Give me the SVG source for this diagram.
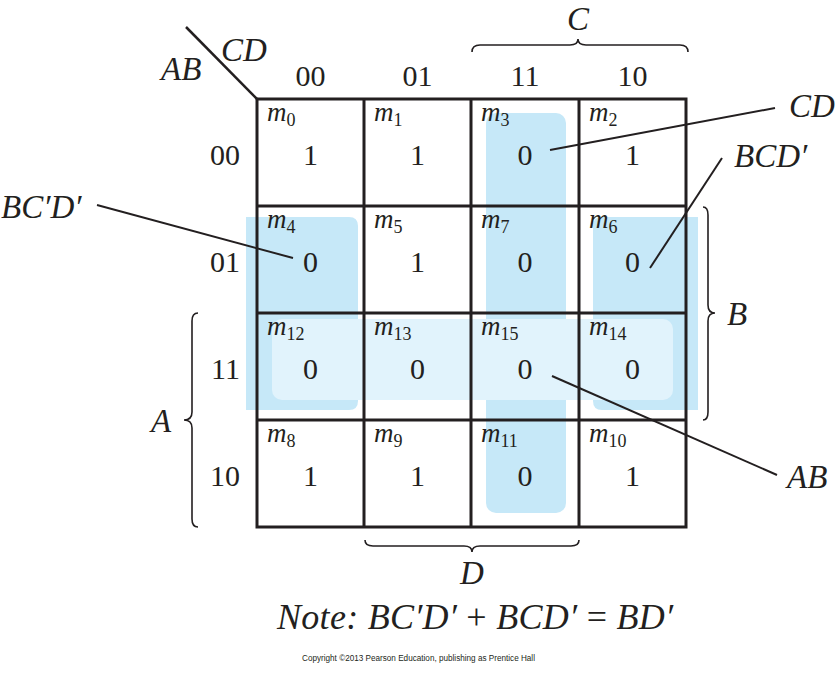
<svg xmlns="http://www.w3.org/2000/svg" width="837" height="677" viewBox="0 0 837 677">
<style>
.t{font-family:"Liberation Serif","Times New Roman",serif;fill:#231f20}
.i{font-style:italic}
.big{font-size:30px}
.v{font-size:30px;text-anchor:middle}
.m{font-size:27px;font-style:italic}
.sub{font-size:18px;font-style:normal}
.lab{font-size:33px;font-style:italic}
.grid{stroke:#231f20;stroke-width:3;fill:none}
.ln{stroke:#231f20;stroke-width:2;fill:none}
.br{stroke:#231f20;stroke-width:1.6;fill:none}
.hl{fill:#c6e8f8}
.hl2{fill:#e1f3fc}
</style>
<rect width="837" height="677" fill="#fff"/>
<g id="highlights">
<rect class="hl" x="486" y="113" width="80" height="400" rx="10"/>
<path class="hl" d="M246,217 H349 Q358,217 358,226 V401 Q358,410 349,410 H246 Z"/>
<path class="hl" d="M698,217 H602 Q593,217 593,226 V401 Q593,410 602,410 H698 Z"/>
<rect class="hl2" x="272" y="319" width="401" height="81" rx="10"/>
</g>
<g id="grid" class="grid">
<rect x="257" y="99" width="429" height="428"/>
<line x1="364" y1="99" x2="364" y2="527"/>
<line x1="471" y1="99" x2="471" y2="527"/>
<line x1="579" y1="99" x2="579" y2="527"/>
<line x1="257" y1="206" x2="686" y2="206"/>
<line x1="257" y1="313" x2="686" y2="313"/>
<line x1="257" y1="420" x2="686" y2="420"/>
<line x1="186" y1="27" x2="257" y2="99" stroke-width="2.5"/>
</g>
<g id="axis-labels">
<text class="t lab" x="221" y="61">CD</text>
<text class="t lab" x="161" y="80">AB</text>
<text class="t big" x="310.5" y="86" text-anchor="middle">00</text>
<text class="t big" x="417.5" y="86" text-anchor="middle">01</text>
<text class="t big" x="525" y="86" text-anchor="middle">11</text>
<text class="t big" x="632.5" y="86" text-anchor="middle">10</text>
<text class="t big" x="240" y="165" text-anchor="end">00</text>
<text class="t big" x="240" y="272" text-anchor="end">01</text>
<text class="t big" x="240" y="379" text-anchor="end">11</text>
<text class="t big" x="240" y="486" text-anchor="end">10</text>
</g>
<g id="cell-m0"><text class="t m" x="267" y="121">m<tspan class="sub" dy="5">0</tspan></text><text class="t v" x="310.5" y="165">1</text></g>
<g id="cell-m1"><text class="t m" x="374" y="121">m<tspan class="sub" dy="5">1</tspan></text><text class="t v" x="417.5" y="165">1</text></g>
<g id="cell-m3"><text class="t m" x="481" y="121">m<tspan class="sub" dy="5">3</tspan></text><text class="t v" x="525" y="165">0</text></g>
<g id="cell-m2"><text class="t m" x="589" y="121">m<tspan class="sub" dy="5">2</tspan></text><text class="t v" x="632.5" y="165">1</text></g>
<g id="cell-m4"><text class="t m" x="267" y="228">m<tspan class="sub" dy="5">4</tspan></text><text class="t v" x="310.5" y="272">0</text></g>
<g id="cell-m5"><text class="t m" x="374" y="228">m<tspan class="sub" dy="5">5</tspan></text><text class="t v" x="417.5" y="272">1</text></g>
<g id="cell-m7"><text class="t m" x="481" y="228">m<tspan class="sub" dy="5">7</tspan></text><text class="t v" x="525" y="272">0</text></g>
<g id="cell-m6"><text class="t m" x="589" y="228">m<tspan class="sub" dy="5">6</tspan></text><text class="t v" x="632.5" y="272">0</text></g>
<g id="cell-m12"><text class="t m" x="267" y="335">m<tspan class="sub" dy="5">12</tspan></text><text class="t v" x="310.5" y="379">0</text></g>
<g id="cell-m13"><text class="t m" x="374" y="335">m<tspan class="sub" dy="5">13</tspan></text><text class="t v" x="417.5" y="379">0</text></g>
<g id="cell-m15"><text class="t m" x="481" y="335">m<tspan class="sub" dy="5">15</tspan></text><text class="t v" x="525" y="379">0</text></g>
<g id="cell-m14"><text class="t m" x="589" y="335">m<tspan class="sub" dy="5">14</tspan></text><text class="t v" x="632.5" y="379">0</text></g>
<g id="cell-m8"><text class="t m" x="267" y="442">m<tspan class="sub" dy="5">8</tspan></text><text class="t v" x="310.5" y="486">1</text></g>
<g id="cell-m9"><text class="t m" x="374" y="442">m<tspan class="sub" dy="5">9</tspan></text><text class="t v" x="417.5" y="486">1</text></g>
<g id="cell-m11"><text class="t m" x="481" y="442">m<tspan class="sub" dy="5">11</tspan></text><text class="t v" x="525" y="486">0</text></g>
<g id="cell-m10"><text class="t m" x="589" y="442">m<tspan class="sub" dy="5">10</tspan></text><text class="t v" x="632.5" y="486">1</text></g>
<g id="braces">
<path class="br" d="M472,52 Q472,45 480,45 L570,45 Q578,45 578,39 Q578,45 586,45 L680,45 Q688,45 688,52"/>
<text class="t lab" x="578" y="30" text-anchor="middle">C</text>
<path class="br" d="M365,540 Q365,546 373,546 L464,546 Q472,546 472,552 Q472,546 480,546 L571,546 Q579,546 579,540"/>
<text class="t lab" x="472" y="584" text-anchor="middle">D</text>
<path class="br" d="M198,313 Q192,313 192,321 L192,412 Q192,420 184,420 Q192,420 192,428 L192,519 Q192,527 198,527"/>
<text class="t lab" x="161" y="432" text-anchor="middle">A</text>
<path class="br" d="M703,207 Q708,207 708,215 L708,305 Q708,313 715,313 Q708,313 708,321 L708,412 Q708,420 703,420"/>
<text class="t lab" x="737" y="325" text-anchor="middle">B</text>
</g>
<g id="connectors" class="ln">
<line x1="550" y1="150" x2="775" y2="108"/>
<line x1="650" y1="268" x2="722" y2="158"/>
<line x1="97" y1="205" x2="293" y2="258"/>
<line x1="552" y1="376" x2="777" y2="475"/>
</g>
<g id="term-labels">
<text class="t lab" x="789" y="117">CD</text>
<text class="t lab" x="734" y="167">BCD′</text>
<text class="t lab" x="1" y="218">BC′D′</text>
<text class="t lab" x="787" y="488">AB</text>
</g>
<g id="note">
<text class="t" x="277" y="629" font-size="36" textLength="396" lengthAdjust="spacing"><tspan class="i">Note: BC′D′</tspan> + <tspan class="i">BCD′</tspan> = <tspan class="i">BD′</tspan></text>
<text x="302" y="661" font-family="Liberation Sans, Arial, sans-serif" font-size="8.5" fill="#231f20" textLength="233" lengthAdjust="spacingAndGlyphs">Copyright ©2013 Pearson Education, publishing as Prentice Hall</text>
</g>
</svg>
